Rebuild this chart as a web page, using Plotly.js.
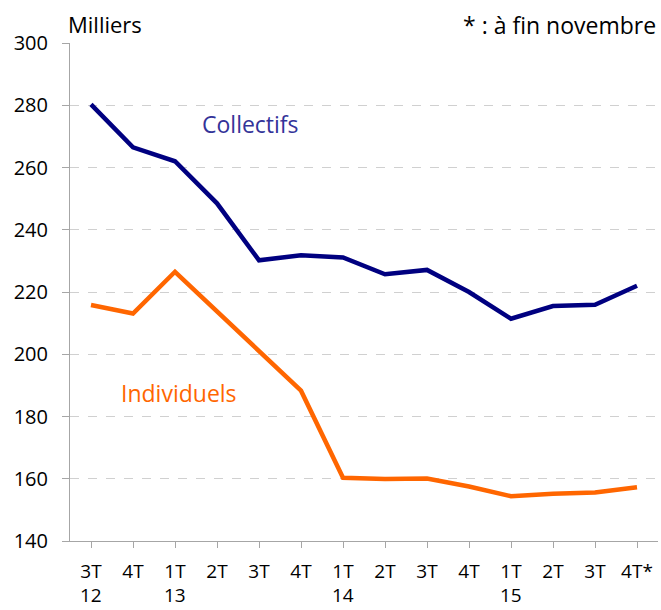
<!DOCTYPE html>
<html>
<head>
<meta charset="utf-8">
<script src="https://cdn.plot.ly/plotly-3.0.1.min.js"></script>
<style>html,body{margin:0;padding:0;background:#fff;}#chart{width:661px;height:610px;}</style>
</head>
<body>
<div id="chart"></div>
<script>
const quarters = ["3T","4T","1T","2T","3T","4T","1T","2T","3T","4T","1T","2T","3T","4T*"];
const years = ["12","","13","","","","14","","","","15","","",""];
const collectifs = [280.3, 266.5, 262.0, 248.5, 230.2, 231.8, 231.1, 225.7, 227.1, 220.0, 211.4, 215.5, 215.9, 222.0];
const individuels = [215.8, 213.1, 226.5, 213.8, 201.2, 188.3, 160.3, 159.9, 160.1, 157.5, 154.4, 155.2, 155.6, 157.3];

const xs = quarters.map((q, i) => i);
const font = "Open Sans, Noto Sans, sans-serif";

const traces = [
  {x: xs, y: collectifs, type: "scatter", mode: "lines", name: "Collectifs",
   line: {color: "#000080", width: 4.5}, hoverinfo: "skip"},
  {x: xs, y: individuels, type: "scatter", mode: "lines", name: "Individuels",
   line: {color: "#FF6600", width: 4.5}, hoverinfo: "skip"}
];

const annotations = [
  {text: "Milliers", xref: "paper", yref: "paper", x: -0.006, y: 1.0, yshift: 2,
   xanchor: "left", yanchor: "bottom", showarrow: false, font: {family: font, size: 22, color: "#000"}},
  {text: "* : à fin novembre", xref: "paper", yref: "paper", x: 1.0, y: 1.0, yshift: 0,
   xanchor: "right", yanchor: "bottom", showarrow: false, font: {family: font, size: 23, color: "#000"}},
  {text: "Collectifs", xref: "x", yref: "y", x: 3.8, y: 274, showarrow: false,
   font: {family: font, size: 23, color: "#333399"}},
  {text: "Individuels", xref: "x", yref: "y", x: 2.1, y: 187.5, showarrow: false,
   font: {family: font, size: 23, color: "#FF6600"}}
];
years.forEach((y, i) => {
  if (y) annotations.push({text: y, xref: "x", yref: "paper", x: i, y: 0, yshift: -69,
    xanchor: "center", yanchor: "bottom", showarrow: false,
    font: {family: font, size: 19, color: "#000"}});
});

const layout = {
  width: 661, height: 610,
  margin: {l: 70, r: 3, t: 43, b: 69},
  paper_bgcolor: "#fff", plot_bgcolor: "#fff",
  showlegend: false,
  font: {family: font, color: "#000"},
  xaxis: {
    range: [-0.5, 13.5], tickvals: xs, ticktext: quarters,
    tickson: "boundaries", ticks: "outside", ticklen: 6, tickcolor: "#a6a6a6",
    ticklabelstandoff: 7,
    showgrid: false, zeroline: false, showline: true, linecolor: "#a6a6a6", linewidth: 1,
    tickfont: {family: font, size: 19, color: "#000"}, tickangle: 0
  },
  yaxis: {
    range: [140, 300], dtick: 20, tick0: 140,
    ticks: "outside", ticklen: 7, tickcolor: "#a6a6a6",
    ticklabelstandoff: 10,
    showgrid: true, gridcolor: "#d0d0d0", griddash: "dash", gridwidth: 1,
    zeroline: false, showline: true, linecolor: "#a6a6a6", linewidth: 1,
    tickfont: {family: font, size: 20, color: "#000"}
  },
  annotations: annotations
};

Plotly.newPlot("chart", traces, layout, {displayModeBar: false, staticPlot: true});
</script>
</body>
</html>
